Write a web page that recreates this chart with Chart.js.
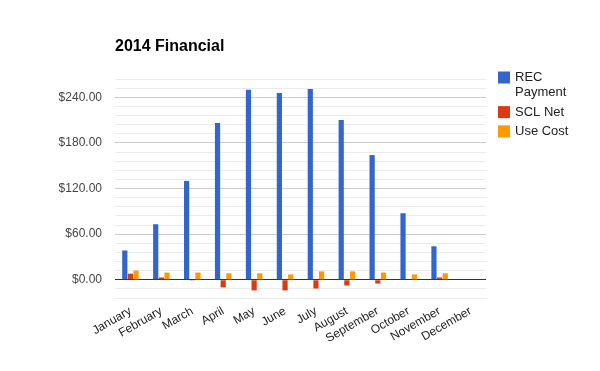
<!DOCTYPE html>
<html>
<head>
<meta charset="utf-8">
<script src="https://cdn.jsdelivr.net/npm/chart.js@4/dist/chart.umd.min.js"></script>
<style>
  html, body { margin: 0; padding: 0; background: #fff; }
</style>
</head>
<body>
<canvas id="chart" width="600" height="371"></canvas>
<script>
// Values
const months = ["January", "February", "March", "April", "May", "June",
                "July", "August", "September", "October", "November", "December"];
const recPayment = [38.5, 73, 130, 206, 250, 245.5, 251, 210, 164, 87.5, 44, null];
const sclNet = [8, 3, -1, -10, -14, -14, -11.5, -7.5, -5, 0, 3, null];
const useCost = [12, 9.5, 9.5, 8.5, 8.5, 7, 11, 11, 9.5, 7, 8.5, null];

const chartTitle = "2014 Financial";
const FONT = "Arial, 'Liberation Sans', sans-serif";

// Title and right-hand legend are drawn by hand to match the Google-style layout
const titleAndLegend = {
    id: "titleAndLegend",
    afterDraw(chart) {
        const ctx = chart.ctx;
        const area = chart.chartArea;
        ctx.save();

        // title
        ctx.font = "bold 16px " + FONT;
        ctx.fillStyle = "#000";
        ctx.textAlign = "left";
        ctx.textBaseline = "alphabetic";
        ctx.fillText(chartTitle, area.left, 51);

        // legend
        ctx.font = "13px " + FONT;
        const x = 498;
        const textX = 515;
        const maxWidth = 70;
        const lineHeight = 15.3;
        let y = 71.5;
        chart.data.datasets.forEach((ds) => {
            // simple word wrap
            const words = ds.label.split(" ");
            const lines = [];
            let line = "";
            words.forEach((w) => {
                const test = line ? line + " " + w : w;
                if (ctx.measureText(test).width > maxWidth && line) {
                    lines.push(line);
                    line = w;
                } else {
                    line = test;
                }
            });
            lines.push(line);

            ctx.fillStyle = ds.backgroundColor;
            ctx.fillRect(x, y, 12, 12);
            ctx.fillStyle = "#222";
            lines.forEach((l, i) => {
                ctx.fillText(l, textX, y + 9.5 + i * lineHeight);
            });
            y += lines.length * lineHeight + 4;
        });
        ctx.restore();
    }
};

const ctx = document.getElementById("chart").getContext("2d");
new Chart(ctx, {
    type: "bar",
    data: {
        labels: months,
        datasets: [
            { label: "REC Payment", data: recPayment, backgroundColor: "#3366cc" },
            { label: "SCL Net", data: sclNet, backgroundColor: "#dc3912" },
            { label: "Use Cost", data: useCost, backgroundColor: "#ff9900" },
        ],
    },
    options: {
        responsive: false,
        animation: false,
        devicePixelRatio: 1,
        layout: {
            padding: { top: 79, right: 114, bottom: 0, left: 0 },
        },
        datasets: {
            bar: {
                categoryPercentage: 0.55,
                barPercentage: 0.92,
            },
        },
        plugins: {
            legend: { display: false },
            title: { display: false },
            tooltip: { enabled: false },
        },
        scales: {
            x: {
                grid: { display: false, drawTicks: false },
                border: { display: false },
                ticks: {
                    color: "#222",
                    font: { family: FONT, size: 12 },
                    minRotation: 30,
                    maxRotation: 30,
                    autoSkip: false,
                    padding: 6,
                },
                afterFit(scale) {
                    scale.height = 73;
                },
            },
            y: {
                min: -24,
                max: 264,
                grid: {
                    drawTicks: false,
                    color(c) {
                        const v = c.tick.value;
                        if (v === 0) return "#333";
                        if (v % 60 === 0) return "#cccccc";
                        return "#ebebeb";
                    },
                },
                border: { display: false },
                ticks: {
                    stepSize: 12,
                    autoSkip: false,
                    color: "#444",
                    padding: 13,
                    font: { family: FONT, size: 12 },
                    callback(value) {
                        if (value >= 0 && value % 60 === 0) return "$" + value.toFixed(2);
                        return "";
                    },
                },
                afterFit(scale) {
                    scale.width = 115;
                },
            },
        },
    },
    plugins: [titleAndLegend],
});
</script>
</body>
</html>
